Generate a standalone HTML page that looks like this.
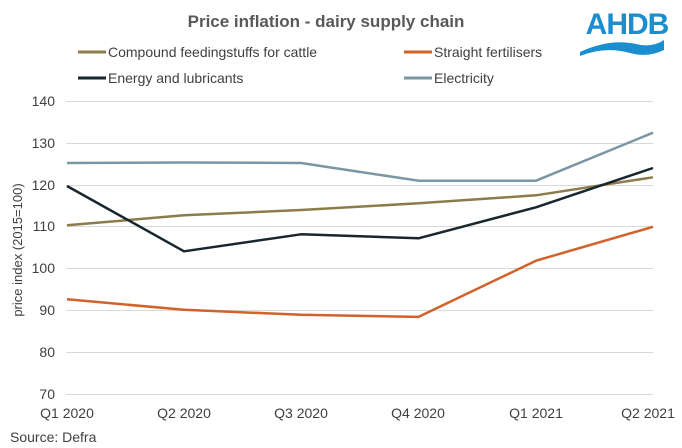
<!DOCTYPE html>
<html><head><style>
body{margin:0;background:#fff;}
svg{display:block;font-family:"Liberation Sans",Arial,sans-serif;}
</style></head><body>
<svg width="682" height="448" viewBox="0 0 682 448">
<text x="326" y="27" text-anchor="middle" font-size="17" font-weight="bold" fill="#595959">Price inflation - dairy supply chain</text>
<text x="627" y="34" text-anchor="middle" font-size="30" font-weight="bold" fill="#1a8ecf" letter-spacing="-1">AHDB</text>
<path d="M580 52 Q610 38 636 44 Q652 48 664 40 L664 50 Q648 58 630 53 Q605 46 580 56Z" fill="#1a8ecf"/>
<g font-size="14" fill="#404040">
<line x1="78" y1="52" x2="106" y2="52" stroke="#8c7b4b" stroke-width="3"/><text x="108" y="57">Compound feedingstuffs for cattle</text>
<line x1="404" y1="52" x2="432" y2="52" stroke="#d0622a" stroke-width="3"/><text x="434" y="57">Straight fertilisers</text>
<line x1="78" y1="78" x2="106" y2="78" stroke="#17262f" stroke-width="3"/><text x="108" y="83">Energy and lubricants</text>
<line x1="404" y1="78" x2="432" y2="78" stroke="#7a96a5" stroke-width="3"/><text x="434" y="83">Electricity</text>
</g>
<g stroke="#d9d9d9" stroke-width="1">
<line x1="66" x2="653" y1="101.5" y2="101.5"/><line x1="66" x2="653" y1="143.5" y2="143.5"/>
<line x1="66" x2="653" y1="185.5" y2="185.5"/><line x1="66" x2="653" y1="226.5" y2="226.5"/>
<line x1="66" x2="653" y1="268.5" y2="268.5"/><line x1="66" x2="653" y1="310.5" y2="310.5"/>
<line x1="66" x2="653" y1="352.5" y2="352.5"/><line x1="66" x2="653" y1="394.5" y2="394.5"/>
</g>
<g font-size="14" fill="#404040" text-anchor="end">
<text x="55" y="106">140</text><text x="55" y="148">130</text><text x="55" y="190">120</text>
<text x="55" y="231">110</text><text x="55" y="273">100</text><text x="55" y="315">90</text>
<text x="55" y="357">80</text><text x="55" y="399">70</text>
</g>
<text transform="translate(22,250) rotate(-90)" text-anchor="middle" font-size="13" fill="#404040">price index (2015=100)</text>
<g font-size="14" fill="#404040" text-anchor="middle">
<text x="67" y="418">Q1 2020</text><text x="184" y="418">Q2 2020</text><text x="301" y="418">Q3 2020</text>
<text x="418" y="418">Q4 2020</text><text x="536" y="418">Q1 2021</text><text x="648" y="418">Q2 2021</text>
</g>
<text x="10" y="442" font-size="14" fill="#404040">Source: Defra</text>
<g fill="none" stroke-width="2.5" stroke-linejoin="round">
<polyline stroke="#7a96a5" points="67,163 184,162.5 301,163 418.5,180.7 536,180.7 653,132.7"/>
<polyline stroke="#8c7b4b" points="67,225.3 184,215.3 301,210 418.5,203.3 536,195.3 653,177.3"/>
<polyline stroke="#17262f" points="67,186 184,251.3 301,234.3 418.5,238.3 536,207.3 653,168"/>
<polyline stroke="#d0622a" points="67,299.3 184,309.8 301,314.8 418.5,316.9 536,260.7 653,226.8"/>
</g>
</svg>
</body></html>
